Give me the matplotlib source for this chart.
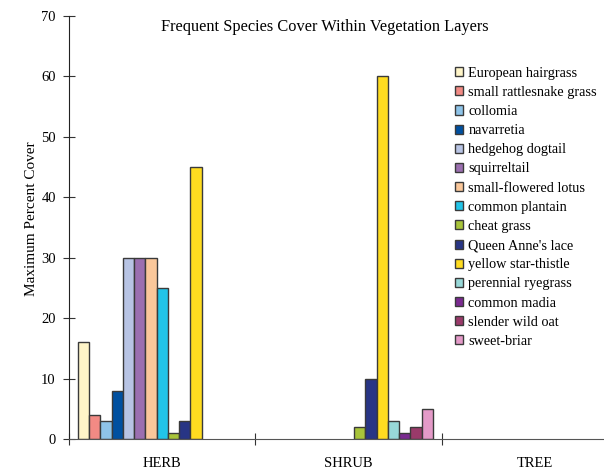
import numpy as np
import matplotlib
matplotlib.use("Agg")
import matplotlib.pyplot as plt

plt.rcParams['font.family'] = ['Liberation Serif', 'DejaVu Serif']

layers = ['HERB', 'SHRUB', 'TREE']
species = ['European hairgrass', 'small rattlesnake grass', 'collomia', 'navarretia',
           'hedgehog dogtail', 'squirreltail', 'small-flowered lotus', 'common plantain',
           'cheat grass', "Queen Anne's lace", 'yellow star-thistle', 'perennial ryegrass',
           'common madia', 'slender wild oat', 'sweet-briar']
# max cover per species, one list per layer
herb = [16, 4, 3, 8, 30, 30, 30, 25, 1, 3, 45, 0, 0, 0, 0]
shrub = [0, 0, 0, 0, 0, 0, 0, 0, 2, 10, 60, 3, 1, 2, 5]
tree = [0, 0, 0, 0, 0, 0, 0, 0, 0, 0, 0, 0, 0, 0, 0]
colors = ['#FFF5C8', '#F28A84', '#8EC3E8', '#0050A0', '#B8C4E4', '#9B6FB0', '#FAC79A',
          '#22C4E8', '#A8C43A', '#283585', '#FFDC20', '#98D8D8', '#7A2A90', '#9A3A6A',
          '#E49AC8']

cover = np.array([herb, shrub, tree])

fig = plt.figure(figsize=(6.04, 4.70), dpi=100)
ax = fig.add_axes([69/604, 31/470, 559/604, 423/470])

n = len(species)
w = 0.906 / n
x = np.arange(len(layers))
bars = []
for i, sp in enumerate(species):
    b = ax.bar(x - 0.453 + w * (i + 0.5), cover[:, i], width=w, color=colors[i],
               edgecolor='#3a3a3a', linewidth=1.0, label=sp)
    bars.append(b)

ax.set_xlim(-0.5, 2.5)
ax.set_ylim(0, 70)
ax.set_yticks(range(0, 71, 10))
ax.set_xticks([-0.5, 0.5, 1.5, 2.5])
ax.set_xticklabels([])
ax.set_xticks(x, minor=True)
ax.set_xticklabels(layers, minor=True)
ax.tick_params(axis='x', which='minor', length=0, pad=13, labelsize=10.5)
ax.tick_params(axis='x', which='major', direction='inout', length=8, color='#333333')
ax.tick_params(axis='y', direction='inout', length=9, pad=5, labelsize=10.5, color='#333333')
for s in ['top', 'right']:
    ax.spines[s].set_visible(False)
ax.spines['left'].set_color('#222222')
ax.spines['bottom'].set_color('#555555')

ax.set_ylabel('Maximum Percent Cover', fontsize=11)
ax.yaxis.set_label_coords(-(69 - 38) / 559, 0.52)
fig.text(325/604, 1 - 27/470, 'Frequent Species Cover Within Vegetation Layers',
         ha='center', va='center', fontsize=11.8)

fig.legend(loc='upper left', bbox_to_anchor=(449/604, 1 - 61/470), frameon=False,
           fontsize=10.3, handlelength=0.55, handleheight=0.6, handletextpad=0.4,
           labelspacing=0.43, borderaxespad=0)

# empty bars get no outline so they don't show along the axis
for b in bars:
    for p in b.patches:
        if p.get_height() == 0:
            p.set_linewidth(0)

fig.savefig('out.png', dpi=100)
